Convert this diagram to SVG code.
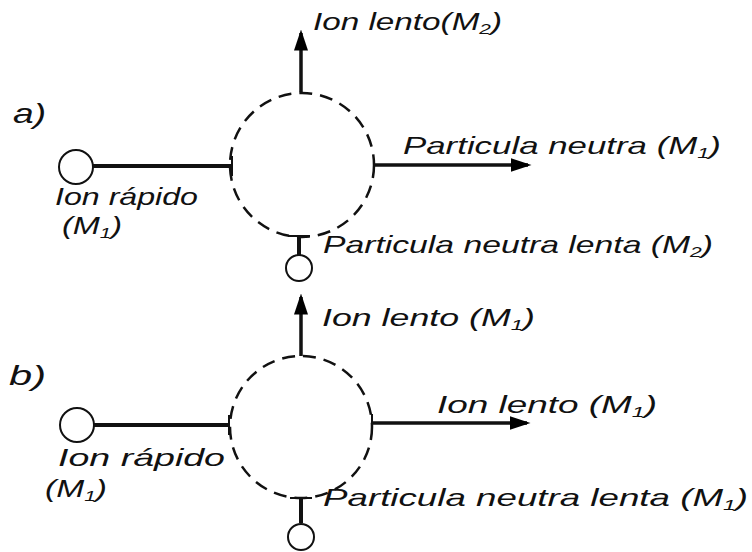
<svg xmlns="http://www.w3.org/2000/svg" width="752" height="552" viewBox="0 0 752 552">
<defs>
<marker id="ah" markerWidth="6" markerHeight="4" refX="5" refY="2" orient="auto" markerUnits="strokeWidth">
<path d="M0,0 L6,2 L0,4 Z" fill="#000"/>
</marker>
</defs>
<style>
.lbl{font-family:"Liberation Sans",Arial,sans-serif;font-style:italic;font-size:24px;fill:#111}
.big{font-size:28px}
.sub{font-size:15px}
.zone{fill:none;stroke:#111;stroke-width:2.5;stroke-dasharray:13 8}
.ball{fill:#fff;stroke:#111;stroke-width:2}
.path{stroke:#111;stroke-width:4;fill:none}
.out{stroke:#111;stroke-width:3.5;fill:none;marker-end:url(#ah)}
.tick{stroke:#111;stroke-width:2}
</style>
<rect width="752" height="552" fill="#fff"/>

<text class="lbl big" x="13" y="123" textLength="33" lengthAdjust="spacingAndGlyphs">a)</text>
<text class="lbl big" x="9" y="385" textLength="37" lengthAdjust="spacingAndGlyphs">b)</text>

<g id="connectors">
<line class="path" x1="93" y1="166" x2="232" y2="166"/>
<line class="tick" x1="232" y1="156" x2="232" y2="176"/>
<line class="out" x1="301" y1="92" x2="301" y2="33"/>
<line class="out" x1="373" y1="165" x2="528" y2="165"/>
<line class="path" x1="299" y1="237" x2="299" y2="255"/>
<line class="tick" x1="288" y1="236" x2="310" y2="236"/>

<line class="path" x1="93" y1="425" x2="229" y2="425"/>
<line class="tick" x1="229" y1="415" x2="229" y2="435"/>
<line class="out" x1="301" y1="356" x2="301" y2="297"/>
<line class="out" x1="372" y1="423" x2="527" y2="423"/>
<line class="tick" x1="372" y1="414" x2="372" y2="432"/>
<line class="path" x1="301" y1="498" x2="301" y2="523"/>
<line class="tick" x1="290" y1="498" x2="312" y2="498"/>
</g>

<g id="a-fast-ion"><circle class="ball" cx="76" cy="167" r="17"/>
<text class="lbl" x="55" y="205" textLength="143" lengthAdjust="spacingAndGlyphs">Ion rápido</text>
<text class="lbl" x="62" y="234" textLength="60" lengthAdjust="spacingAndGlyphs">(M<tspan class="sub" dy="4">1</tspan><tspan dy="-4">)</tspan></text></g>
<g id="a-zone"><circle class="zone" cx="302" cy="165" r="72"/></g>
<g id="a-slow-ion"><text class="lbl" x="313" y="30" textLength="189" lengthAdjust="spacingAndGlyphs">Ion lento(M<tspan class="sub" dy="4">2</tspan><tspan dy="-4">)</tspan></text></g>
<g id="a-neutral"><text class="lbl" x="403" y="154" textLength="318" lengthAdjust="spacingAndGlyphs">Particula neutra (M<tspan class="sub" dy="4">1</tspan><tspan dy="-4">)</tspan></text></g>
<g id="a-slow-neutral"><circle class="ball" cx="299" cy="268" r="13"/>
<text class="lbl" x="323" y="253" textLength="390" lengthAdjust="spacingAndGlyphs">Particula neutra lenta (M<tspan class="sub" dy="4">2</tspan><tspan dy="-4">)</tspan></text></g>

<g id="b-fast-ion"><circle class="ball" cx="77" cy="425" r="17"/>
<text class="lbl" x="58" y="466" textLength="167" lengthAdjust="spacingAndGlyphs">Ion rápido</text>
<text class="lbl" x="45" y="497" textLength="62" lengthAdjust="spacingAndGlyphs">(M<tspan class="sub" dy="4">1</tspan><tspan dy="-4">)</tspan></text></g>
<g id="b-zone"><circle class="zone" cx="301" cy="427" r="71"/></g>
<g id="b-slow-ion-up"><text class="lbl" x="322" y="326" textLength="213" lengthAdjust="spacingAndGlyphs">Ion lento (M<tspan class="sub" dy="4">1</tspan><tspan dy="-4">)</tspan></text></g>
<g id="b-slow-ion-right"><text class="lbl" x="437" y="413" textLength="220" lengthAdjust="spacingAndGlyphs">Ion lento (M<tspan class="sub" dy="4">1</tspan><tspan dy="-4">)</tspan></text></g>
<g id="b-slow-neutral"><circle class="ball" cx="301" cy="537" r="13"/>
<text class="lbl" x="323" y="506" textLength="425" lengthAdjust="spacingAndGlyphs">Particula neutra lenta (M<tspan class="sub" dy="4">1</tspan><tspan dy="-4">)</tspan></text></g>
</svg>
